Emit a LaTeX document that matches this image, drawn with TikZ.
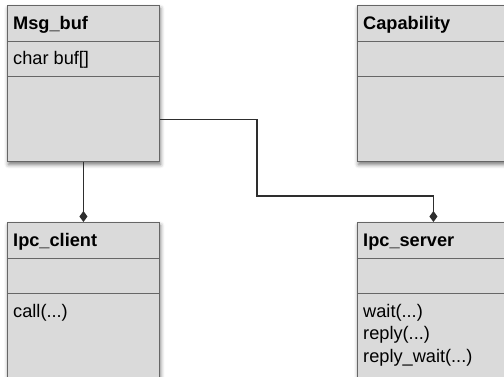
\documentclass[tikz,border=0pt]{standalone}
\usepackage{fontspec}
\setmainfont{Liberation Sans}
\usetikzlibrary{arrows.meta,shadows.blur}
\definecolor{boxfill}{HTML}{DADADA}
\definecolor{boxline}{HTML}{666666}
\definecolor{wire}{HTML}{2E2E2E}
\begin{document}
\begin{tikzpicture}[x=1pt,y=-1pt,
  classbox/.style={draw=boxline,line width=0.9pt,fill=boxfill,
    minimum width=152pt,minimum height=156pt,inner sep=0pt,anchor=north west,
    blur shadow={shadow xshift=1pt,shadow yshift=-3pt,shadow blur radius=4pt,shadow opacity=55}},
  divider/.style={draw=boxline,line width=0.8pt},
  cname/.style={anchor=base west,inner sep=0pt,font=\fontsize{18.2}{22}\selectfont\bfseries},
  member/.style={anchor=base west,inner sep=0pt,font=\fontsize{18.2}{22}\selectfont},
  wireline/.style={draw=wire,line width=1.1pt},
  comp/.style={-{Diamond[length=11pt,width=8pt]}}
]
\useasboundingbox (0,0) rectangle (504,377);
\begin{scope}
\clip (0,0) rectangle (504,377);
% class boxes
\node[classbox] (msg) at (7,5) {};
\node[classbox] (cap) at (357,5) {};
\node[classbox] (client) at (7,222) {};
\node[classbox] (server) at (357,222) {};
% compartment dividers
\foreach \b in {msg,cap,client,server}{
  \draw[divider] ([yshift=-36pt]\b.north west) -- ([yshift=-36pt]\b.north east);
  \draw[divider] ([yshift=-71pt]\b.north west) -- ([yshift=-71pt]\b.north east);
}
% class names and members
\node[cname] (msgname) at (13,30) {Msg\_buf};
\node[member] (msgattr) at (13,65) {char buf[]};
\node[cname] (capname) at (363,30) {Capability};
\node[cname] (clientname) at (13,247) {Ipc\_client};
\node[member] (clientop) at (13,317) {call(...)};
\node[cname] (servername) at (363,247) {Ipc\_server};
\node[member] (serverop1) at (363,317) {wait(...)};
\node[member] (serverop2) at (363,339.5) {reply(...)};
\node[member] (serverop3) at (363,362) {reply\_wait(...)};
% composition connectors
\coordinate (m1) at ([yshift=-36pt]msg.east);
\coordinate (bend) at (257,196);
\draw[wireline,comp] (msg.south) -- (client.north);
\draw[wireline,comp] (m1) -| (bend) -| (server.north);
\end{scope}
\end{tikzpicture}
\end{document}
